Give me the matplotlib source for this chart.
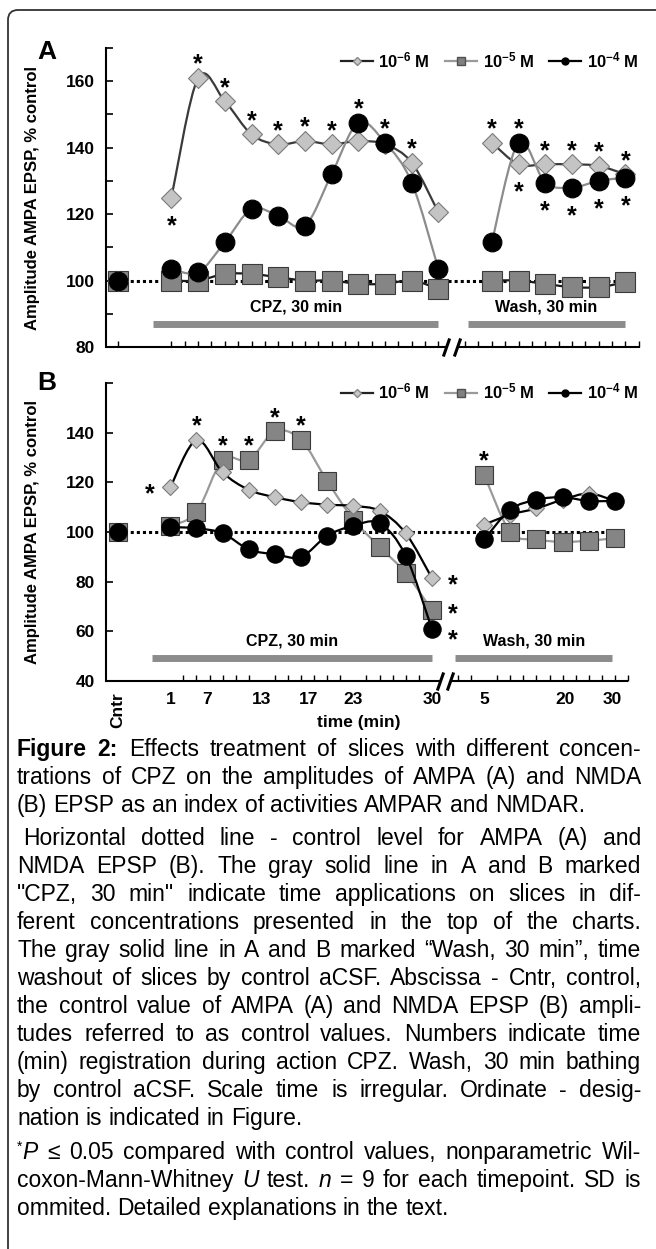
import re
import numpy as np
import matplotlib

matplotlib.use("Agg")
import matplotlib.pyplot as plt
from matplotlib.path import Path
from matplotlib.patches import PathPatch, FancyBboxPatch
from matplotlib.lines import Line2D

plt.rcParams["font.family"] = ["Liberation Sans", "DejaVu Sans"]
plt.rcParams["mathtext.fontset"] = "custom"
plt.rcParams["mathtext.rm"] = "Liberation Sans:bold"
plt.rcParams["mathtext.bf"] = "Liberation Sans:bold"
plt.rcParams["mathtext.it"] = "Liberation Sans:italic:bold"

# category positions on the irregular time scale
x_cntr = [0]
x_cpz = [2, 3, 4, 5, 6, 7, 8, 9, 10, 11, 12]
x_wash = [14, 15, 16, 17, 18, 19]
control = 100

# panel A (AMPA EPSP, % control)
a_m6_cpz = [125, 161, 154, 144, 141, 142, 141, 142, 141, 135.5, 120.5]
a_m6_wash = [141.5, 135, 135, 135, 134.5, 132]
a_m5_cpz = [100, 100, 102, 102, 101, 100, 100, 99, 99, 100, 97.5]
a_m5_wash = [100, 100, 99, 98, 98, 99.5]
a_m4_cpz = [103.5, 102.5, 111.5, 121.5, 119.5, 116.5, 132, 147.5, 141.5, 129.5, 103.5]
a_m4_wash = [111.5, 141.5, 129.5, 128, 130, 131]

# panel B (NMDA EPSP, % control)
b_m6_cpz = [118, 137, 124, 117, 114, 112, 111, 110.5, 108.5, 99.5, 81.5]
b_m6_wash = [103, 107, 109.5, 113, 115.5, 112.5]
b_m5_cpz = [102.5, 108, 129, 129, 140.5, 137, 120.5, 105, 94, 83.5, 68.5]
b_m5_wash = [123, 100, 97, 96, 96.5, 97.5]
b_m4_cpz = [102, 101.5, 99.5, 93, 91, 90, 98.5, 102.5, 103.5, 90.5, 61]
b_m4_wash = [97, 109, 113, 114, 112.5, 112.5]

series_labels = [r"10$^{-6}$ M", r"10$^{-5}$ M", r"10$^{-4}$ M"]

# significance marks: (series, time position, side of the point)
a_stars = [("m6", 2, "below"), ("m6", 3, "above"), ("m6", 4, "above"),
           ("m6", 5, "above"), ("m6", 6, "above"), ("m6", 7, "above"),
           ("m6", 8, "above"), ("m4", 9, "above"), ("m4", 10, "above"),
           ("m6", 11, "above"), ("m6", 14, "above"), ("m4", 15, "above"),
           ("m6", 15, "below"), ("m6", 16, "above"), ("m6", 17, "above"),
           ("m6", 18, "above"), ("m6", 19, "above"), ("m4", 16, "below"),
           ("m4", 17, "below"), ("m4", 18, "below"), ("m4", 19, "below")]
b_stars = [("m6", 2, "left"), ("m6", 3, "above"), ("m5", 4, "above"),
           ("m5", 5, "above"), ("m5", 6, "above"), ("m5", 7, "above"),
           ("m6", 12, "right"), ("m5", 12, "right_up"), ("m4", 12, "right_down"),
           ("m5", 14, "above")]

# treatment periods: label, start, end (time positions), level
a_periods = [("CPZ, 30 min", 1.3, 12.0, 87), ("Wash, 30 min", 13.1, 19.0, 87)]
b_periods = [("CPZ, 30 min", 1.3, 12.0, 49.3), ("Wash, 30 min", 12.9, 18.9, 49.3)]

b_tick_pos = [0, 2, 3.4, 5.5, 7.3, 9, 12, 14, 17.1, 18.9]
b_tick_labels = ["Cntr", "1", "7", "13", "17", "23", "30", "5", "20", "30"]

caption_lines = [
    "**Figure** **2:** Effects treatment of slices with different concen-",
    "trations of CPZ on the amplitudes of AMPA (A) and NMDA",
    "(B) EPSP as an index of activities AMPAR and NMDAR.",
    "Horizontal dotted line - control level for AMPA (A) and",
    "NMDA EPSP (B). The gray solid line in A and B marked",
    "\"CPZ, 30 min\" indicate time applications on slices in dif-",
    "ferent concentrations presented in the top of the charts.",
    "The gray solid line in A and B marked \u201cWash, 30 min\u201d, time",
    "washout of slices by control aCSF. Abscissa - Cntr, control,",
    "the control value of AMPA (A) and NMDA EPSP (B) ampli-",
    "tudes referred to as control values. Numbers indicate time",
    "(min) registration during action CPZ. Wash, 30 min bathing",
    "by control aCSF. Scale time is irregular. Ordinate - desig-",
    "nation is indicated in Figure.",
    "^*^_P_ \u2264 0.05 compared with control values, nonparametric Wil-",
    "coxon-Mann-Whitney _U_ test. _n_ = 9 for each timepoint. SD is",
    "ommited. Detailed explanations in the text.",
]
caption_justify = [True, True, False, True, True, True, True, True, True,
                   True, True, True, True, False, True, True, False]
caption_y = [749, 777, 805, 838, 866, 894, 922, 950, 978, 1006, 1034,
             1062, 1090, 1118, 1152, 1180, 1208]

W, H = 656, 1249
STAR_SIZE = 18
TICK_SIZE = 12.5

styles = {
    "m6": dict(marker="D", mfc="#c4c4c4", mec="#7a7a7a"),
    "m5": dict(marker="s", mfc="#858585", mec="#3a3a3a"),
    "m4": dict(marker="o", mfc="black", mec="black"),
}


def smooth_path(xs, ys, k=1 / 6):
    pts = np.column_stack([xs, ys]).astype(float)
    n = len(pts)
    verts = [pts[0]]
    codes = [Path.MOVETO]
    for i in range(n - 1):
        p0 = pts[i - 1] if i > 0 else pts[i]
        p1, p2 = pts[i], pts[i + 1]
        p3 = pts[i + 2] if i + 2 < n else pts[i + 1]
        verts += [p1 + (p2 - p0) * k, p2 - (p3 - p1) * k, p2]
        codes += [Path.CURVE4] * 3
    return Path(verts, codes)


def draw_panel(ax, data, line_colors, sizes, stars, periods, xlim, ylim):
    ax.set_xlim(*xlim)
    ax.set_ylim(*ylim)
    ax.hlines(control, x_cntr[0], x_wash[-1] + 0.3, colors="black",
              linestyles=(0, (1, 1)), lw=2.2, zorder=1)

    z = 2
    for key in ["m5", "m6", "m4"]:
        cpz, wash = data[key]
        for xs, ys in [(x_cpz, cpz), (x_wash, wash)]:
            ax.add_patch(PathPatch(smooth_path(xs, ys), fill=False,
                                   ec=line_colors[key], lw=1.6, zorder=z))
        ax.plot(x_cntr + x_cpz + x_wash, [control] + cpz + wash, ls="none",
                ms=sizes[key], mew=0.8, zorder=z + 0.5, **styles[key])
        z += 1

    lookup = {k: dict(zip(x_cpz + x_wash, v[0] + v[1])) for k, v in data.items()}
    shift = 0.58 * STAR_SIZE
    offsets = {"above": (0, 15), "below": (0, -15), "left": (-15, 0),
               "right": (15, 0), "right_up": (15, 2.5), "right_down": (15, -3)}
    for key, xv, side in stars:
        dx, dy = offsets[side]
        ax.annotate("*", xy=(xv, lookup[key][xv]), xytext=(dx, dy - shift),
                    textcoords="offset points", ha="center", va="baseline",
                    fontsize=STAR_SIZE, fontweight="bold", zorder=10)

    for label, x0, x1, lvl in periods:
        ax.hlines(lvl, x0, x1, colors="#8c8c8c", lw=5, zorder=1)
        ax.annotate(label, xy=((x0 + x1) / 2, lvl), xytext=(0, 12),
                    textcoords="offset points", ha="center", va="center",
                    fontsize=11.5, fontweight="bold")

    for s in ["top", "right", "bottom"]:
        ax.spines[s].set_visible(False)
    ax.spines["left"].set_linewidth(1.5)
    tr = ax.get_xaxis_transform()
    ax.plot([xlim[0], 12.3], [0, 0], transform=tr, color="black", lw=1.5,
            clip_on=False, solid_capstyle="butt")
    ax.plot([12.7, xlim[1]], [0, 0], transform=tr, color="black", lw=1.5,
            clip_on=False, solid_capstyle="butt")
    ax.plot([12.3, 12.7], [0, 0], transform=tr, ls="none",
            marker=[(-0.35, -1), (0.35, 1)], ms=13, mew=2.2, color="black",
            clip_on=False)

    minor = [0] + list(np.arange(2, 12.01, 0.5)) + list(np.arange(13, xlim[1] + 0.01, 0.5))
    ax.set_xticks(minor, minor=True)
    ax.tick_params(axis="x", which="minor", direction="in", length=4, width=1)
    ax.tick_params(axis="y", which="both", direction="in", length=5, width=1.2,
                   labelsize=TICK_SIZE, pad=8)
    ax.set_ylabel("Amplitude AMPA EPSP, % control", fontsize=12, fontweight="bold")

    handles = [
        Line2D([], [], color="#222222", lw=1.6, marker="D", ms=4.5, mfc="#c8c8c8", mec="#888888"),
        Line2D([], [], color="#9a9a9a", lw=1.6, marker="s", ms=5.5, mfc="#808080", mec="#505050"),
        Line2D([], [], color="black", lw=1.6, marker="o", ms=5, mfc="black", mec="black"),
    ]
    return handles


fig = plt.figure(figsize=(W / 100, H / 100), dpi=100)

# rounded frame around the figure panel
fig.add_artist(FancyBboxPatch((0.08, -1.0), 8.0, 12.49 - 0.10 + 1.0,
                              boxstyle="round,pad=0,rounding_size=0.1",
                              transform=fig.dpi_scale_trans, fill=False,
                              ec="#333333", lw=1.3))

axA = fig.add_axes([106 / W, 1 - 347 / H, 534 / W, 299 / H])
axB = fig.add_axes([106 / W, 1 - 681 / H, 522 / W, 298 / H])

data_a = {"m6": (a_m6_cpz, a_m6_wash), "m5": (a_m5_cpz, a_m5_wash), "m4": (a_m4_cpz, a_m4_wash)}
data_b = {"m6": (b_m6_cpz, b_m6_wash), "m5": (b_m5_cpz, b_m5_wash), "m4": (b_m4_cpz, b_m4_wash)}

hA = draw_panel(axA, data_a, {"m6": "#3a3a3a", "m5": "#1a1a1a", "m4": "#8c8c8c"},
                {"m6": 10.5, "m5": 14, "m4": 13.5}, a_stars, a_periods,
                (-0.45, 19.55), (80, 170))
hB = draw_panel(axB, data_b, {"m6": "black", "m5": "#9a9a9a", "m4": "black"},
                {"m6": 8, "m5": 13, "m4": 12.5}, b_stars, b_periods,
                (-0.46, 19.5), (40, 160))

axA.set_yticks(range(80, 161, 20))
axA.set_yticks(range(90, 171, 20), minor=True)
axA.set_xticks([])
axB.set_yticks(range(40, 141, 20))
axB.set_yticks([160], minor=True)
axB.set_xticks(b_tick_pos, b_tick_labels)
axB.tick_params(axis="x", which="major", length=0, labelsize=TICK_SIZE, pad=8)
for ax in (axA, axB):
    for t in ax.get_yticklabels():
        t.set_fontweight("bold")
for t in axB.get_xticklabels():
    t.set_fontweight("bold")
axB.get_xticklabels()[0].set_rotation(90)
axB.text(0.484, -0.1376, "time (min)", transform=axB.transAxes, ha="center",
         va="center", fontsize=TICK_SIZE, fontweight="bold")

axA.yaxis.set_label_coords((40 - 106) / 534, 0.5)
axB.yaxis.set_label_coords((40 - 106) / 522, 0.5)

for ax, hs, xa, ya in [(axA, hA, 0.44, 0.96), (axB, hB, 0.45, 0.97)]:
    ax.legend(hs, series_labels, loc="center left", bbox_to_anchor=(xa, ya),
              ncol=3, frameon=False, borderpad=0, borderaxespad=0,
              handlelength=1.9, handletextpad=0.35, columnspacing=0.9,
              prop={"weight": "bold", "size": 12})

fig.text(47 / W, 1 - 52 / H, "A", fontsize=19, fontweight="bold", ha="center", va="center")
fig.text(47 / W, 1 - 383 / H, "B", fontsize=19, fontweight="bold", ha="center", va="center")

# caption, justified line by line
CAP_SIZE = 16.5
left_px, right_px = 17, 641
renderer = fig.canvas.get_renderer()
for i, line in enumerate(caption_lines):
    base_y = caption_y[i] + 7
    lx = left_px + (6 if i == 3 else 0)
    words = []
    for w in line.split(" "):
        segs = []
        for b, it, sup, plain in re.findall(r"\*\*(.+?)\*\*|_(.+?)_|\^(.+?)\^|([^*_^]+)", w):
            if b:
                t = fig.text(0, 0, b, fontsize=CAP_SIZE, fontweight="bold")
            elif it:
                t = fig.text(0, 0, it, fontsize=CAP_SIZE, fontstyle="italic")
            elif sup:
                t = fig.text(0, 0, sup, fontsize=10)
                t._sup = True
            else:
                t = fig.text(0, 0, plain, fontsize=CAP_SIZE)
            segs.append(t)
        words.append(segs)
    widths = [[s.get_window_extent(renderer).width for s in segs] for segs in words]
    total = sum(sum(ws) for ws in widths)
    if caption_justify[i] and len(words) > 1:
        gap = (right_px - lx - total) / (len(words) - 1)
    else:
        gap = 0.278 * CAP_SIZE * 100 / 72
    x = lx
    for segs, ws in zip(words, widths):
        for s, wd in zip(segs, ws):
            yy = base_y - (8 if getattr(s, "_sup", False) else 0)
            s.set_position((x / W, 1 - yy / H))
            s.set_va("baseline")
            x += wd
        x += gap

fig.savefig("out.png", dpi=100)
